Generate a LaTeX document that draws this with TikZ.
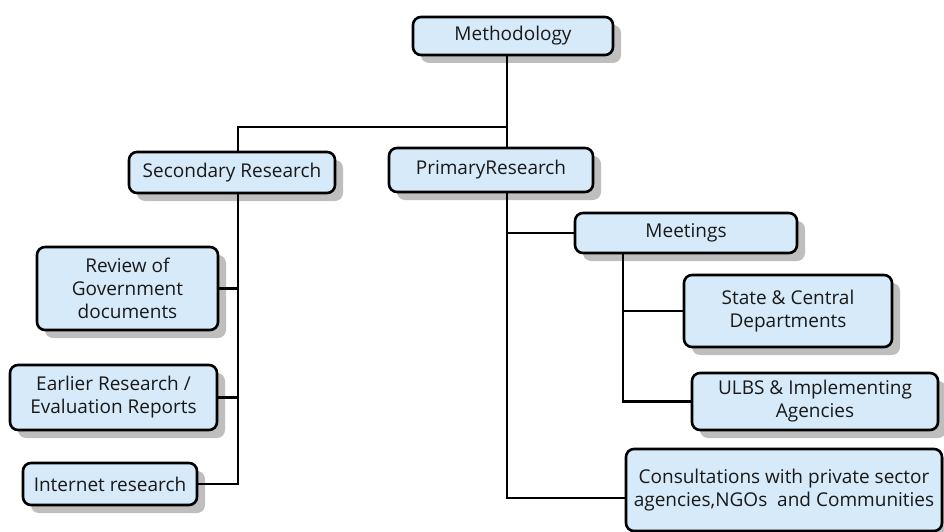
\documentclass[tikz,border=0pt]{standalone}
\usepackage{fontspec}
\setmainfont{Open Sans}
\usetikzlibrary{shadows}
\definecolor{boxblue}{RGB}{214,234,250}
\definecolor{shadowgray}{RGB}{190,190,190}
\definecolor{textgray}{RGB}{25,25,25}
\tikzset{
  resbox/.style={draw=black,line width=2.6pt,rounded corners=8pt,fill=boxblue,
    drop shadow={shadow xshift=8pt,shadow yshift=-8pt,fill=shadowgray,opacity=1},
    align=center,text=textgray,inner sep=0pt,
    font=\fontsize{19}{23}\selectfont},
  link/.style={line width=2.8pt}
}
\begin{document}
\begin{tikzpicture}[x=1pt,y=-1pt]
    \useasboundingbox (0,0) rectangle (944,532);

    % x positions of the vertical lines
    \coordinate (mainX) at (507,0);
    \coordinate (secX) at (238,0);
    \coordinate (meetX) at (623,0);
    \coordinate (split) at (507,127);

    \node[resbox,minimum width=200pt,minimum height=38pt] (nodeMethod) at (513,36) {Methodology};
    \node[resbox,minimum width=206pt,minimum height=41pt] (nodeSecondary) at (232,172.5) {Secondary Research};
    \node[resbox,minimum width=204pt,minimum height=44pt] (nodePrimary) at (491,170) {PrimaryResearch};

    \node[resbox,minimum width=222pt,minimum height=40pt] (nodeMeetings) at (686,233) {Meetings};
    \node[resbox,minimum width=208pt,minimum height=72pt] (nodeState) at (788,311) {State \& Central\\Departments};
    \node[resbox,minimum width=246pt,minimum height=57pt] (nodeULBS) at (815,401.5) {ULBS \& Implementing\\Agencies};
    \node[resbox,minimum width=316pt,minimum height=82pt] (nodeConsult) at (784,490) {Consultations with private sector\\agencies,NGOs~ and Communities};

    \node[resbox,minimum width=181pt,minimum height=83pt] (nodeReview) at (127.5,288.5) {Review of\\Government\\documents};
    \node[resbox,minimum width=207pt,minimum height=65pt] (nodeEarlier) at (113.5,397.5) {Earlier Research /\\Evaluation Reports};
    \node[resbox,minimum width=174pt,minimum height=42pt] (nodeInternet) at (110,484) {Internet research};

    % top level
    \draw[link] (nodeMethod.south -| mainX) -- (nodePrimary.north -| mainX);
    \draw[link] (split) -| (nodeSecondary.north -| secX);

    % primary branch
    \draw[link] (nodePrimary.south -| mainX) |- (nodeMeetings.west);
    \draw[link] (nodePrimary.south -| mainX) |- ([yshift=-8pt]nodeConsult.west);
    \draw[link] (nodeMeetings.south -| meetX) |- (nodeState.west);
    \draw[link] (nodeMeetings.south -| meetX) |- (nodeULBS.west);

    % secondary branch
    \draw[link] (nodeSecondary.south -| secX) |- (nodeReview.east);
    \draw[link] (nodeSecondary.south -| secX) |- (nodeEarlier.east);
    \draw[link] (nodeSecondary.south -| secX) |- (nodeInternet.east);

\end{tikzpicture}
\end{document}
